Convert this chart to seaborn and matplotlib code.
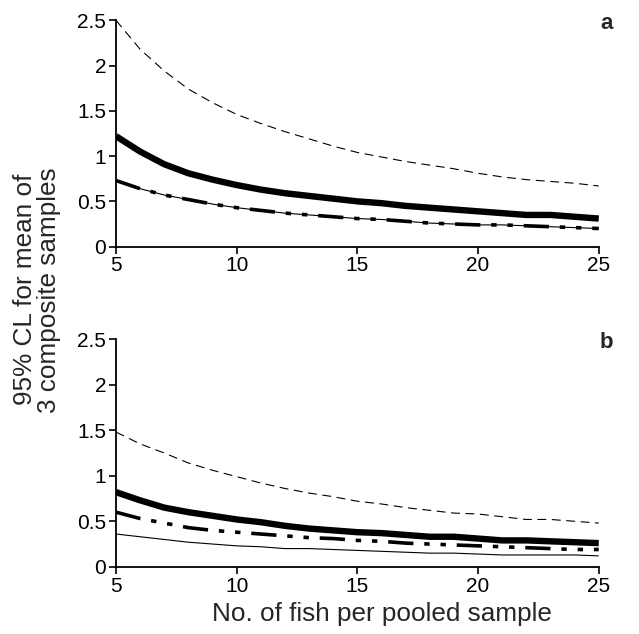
import numpy as np
import pandas as pd
import matplotlib
matplotlib.use("Agg")
import matplotlib.pyplot as plt
import seaborn as sns

# ---------------- data ----------------
fish = list(range(5, 26))

# panel a
a_dashed = [2.50, 2.18, 1.94, 1.74, 1.59, 1.46, 1.36, 1.27, 1.19, 1.11, 1.04,
            0.99, 0.94, 0.90, 0.86, 0.81, 0.77, 0.74, 0.72, 0.70, 0.67]
a_thick = [1.22, 1.05, 0.91, 0.81, 0.74, 0.68, 0.63, 0.59, 0.56, 0.53, 0.50,
           0.48, 0.45, 0.43, 0.41, 0.39, 0.37, 0.35, 0.35, 0.33, 0.31]
a_dashdot = [0.73, 0.64, 0.57, 0.52, 0.47, 0.43, 0.40, 0.37, 0.35, 0.33, 0.31,
             0.30, 0.28, 0.26, 0.25, 0.24, 0.24, 0.23, 0.22, 0.21, 0.20]
a_thin = [0.73, 0.64, 0.57, 0.52, 0.47, 0.43, 0.40, 0.37, 0.35, 0.33, 0.31,
          0.30, 0.28, 0.26, 0.25, 0.24, 0.24, 0.23, 0.22, 0.21, 0.20]

# panel b
b_dashed = [1.48, 1.35, 1.25, 1.14, 1.06, 0.99, 0.92, 0.86, 0.81, 0.77, 0.72,
            0.69, 0.65, 0.62, 0.59, 0.58, 0.55, 0.52, 0.52, 0.50, 0.48]
b_thick = [0.82, 0.73, 0.65, 0.60, 0.56, 0.52, 0.49, 0.45, 0.42, 0.40, 0.38,
           0.37, 0.35, 0.33, 0.33, 0.31, 0.29, 0.29, 0.28, 0.27, 0.26]
b_dashdot = [0.60, 0.53, 0.48, 0.43, 0.40, 0.38, 0.36, 0.34, 0.32, 0.31, 0.29,
             0.28, 0.26, 0.25, 0.24, 0.23, 0.22, 0.21, 0.20, 0.19, 0.19]
b_thin = [0.36, 0.33, 0.30, 0.27, 0.25, 0.23, 0.22, 0.20, 0.20, 0.19, 0.18,
          0.17, 0.16, 0.15, 0.15, 0.14, 0.13, 0.13, 0.13, 0.13, 0.12]

y_ticks = [0, 0.5, 1, 1.5, 2, 2.5]
y_ticklabels = ["0", "0.5", "1", "1.5", "2", "2.5"]
x_ticks = [5, 10, 15, 20, 25]
panel_labels = ["a", "b"]

# ---------------- style ----------------
sns.set_style("ticks")
plt.rcParams["font.family"] = ["Liberation Sans", "DejaVu Sans"]

fig = plt.figure(figsize=(6.39, 6.34), dpi=100)
ax_a = fig.add_axes([0.1815, 0.611, 0.7555, 0.357])
ax_b = fig.add_axes([0.1815, 0.106, 0.7555, 0.359])

styles = [
    dict(lw=0.8, dashes=(8, 5)),          # thin dashed
    dict(lw=4.6, dashes=None),            # thick solid
    dict(lw=0.8, dashes=None),            # thin solid
    dict(lw=2.6, dashes=(7, 3, 1.5, 3, 1.5, 3)),  # dash-dot-dot
]

def draw(ax, series, label):
    for ys, st in zip(series, styles):
        df = pd.DataFrame({"x": fish, "y": ys})
        sns.lineplot(data=df, x="x", y="y", ax=ax, color="black",
                     linewidth=st["lw"], legend=False)
        line = ax.lines[-1]
        line.set_solid_capstyle("butt")
        line.set_dash_capstyle("butt")
        if st["dashes"] is not None:
            line.set_dashes(st["dashes"])
    ax.set_xlim(5, 25)
    ax.set_ylim(0, 2.5)
    ax.set_xticks(x_ticks)
    ax.set_xticklabels([str(t) for t in x_ticks])
    ax.set_yticks(y_ticks)
    ax.set_yticklabels(y_ticklabels)
    ax.set_xlabel("")
    ax.set_ylabel("")
    for s in ["top", "right"]:
        ax.spines[s].set_visible(False)
    for s in ["left", "bottom"]:
        ax.spines[s].set_linewidth(1.3)
        ax.spines[s].set_color("black")
    ax.tick_params(axis="both", labelsize=15, width=1.2, length=5,
                   direction="out", colors="black", pad=2)
    ax.text(1.03, 0.985, label, transform=ax.transAxes, fontsize=16,
            fontweight="bold", ha="right", va="center")

draw(ax_a, [a_dashed, a_thick, a_thin, a_dashdot], panel_labels[0])
draw(ax_b, [b_dashed, b_thick, b_thin, b_dashdot], panel_labels[1])

ax_b.set_xlabel("No. of fish per pooled sample", fontsize=18.8)
ax_b.xaxis.set_label_coords(0.55, -0.155)
fig.text(0.058, 0.543, "95% CL for mean of\n3 composite samples",
         rotation=90, fontsize=18.8, ha="center", va="center",
         multialignment="center", linespacing=1.0)

fig.savefig("out.png", dpi=100, facecolor="white")
